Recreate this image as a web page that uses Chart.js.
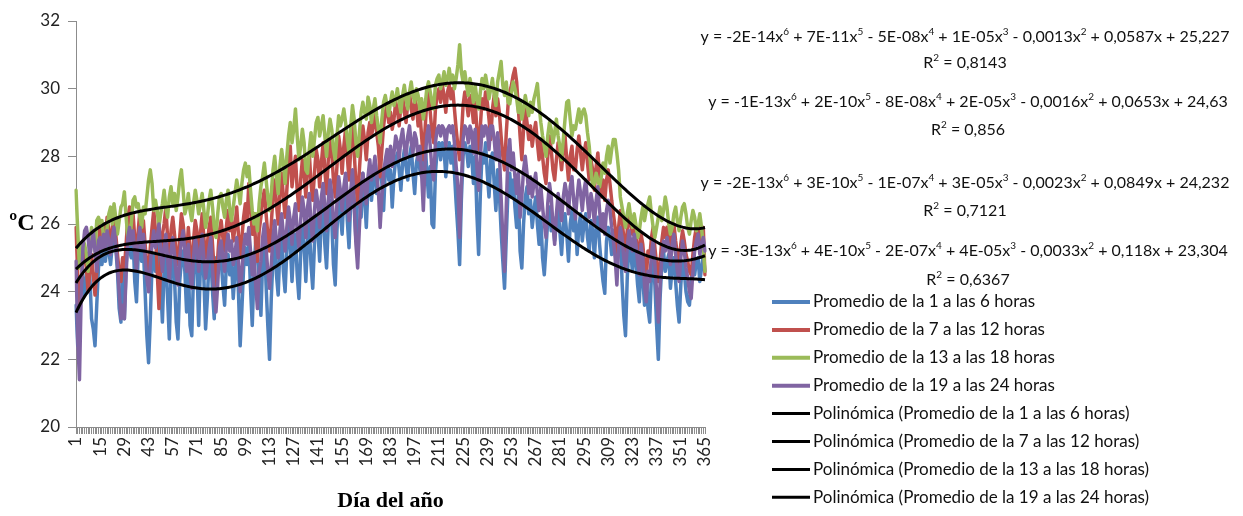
<!DOCTYPE html>
<html>
<head>
<meta charset="utf-8">
<style>
  html, body { margin: 0; padding: 0; background: #fff; }
  canvas { display: block; }
</style>
<script src="https://cdn.jsdelivr.net/npm/chart.js@4/dist/chart.umd.min.js"></script>
</head>
<body>
<canvas id="c" width="1243" height="516"></canvas>
<script>
// Day of year (category axis) and the labelled tick step
const days = Array.from({ length: 365 }, (_, i) => i + 1);
const labelStep = 14;

// Daily mean temperature (ºC), 1 h – 6 h
const blue = [
23.6,22.4,23.1,24.2,24.5,23.9,24.4,24.6,24.5,23.2,22.9,22.4,23.6,24.7,
25.1,24.8,25.3,24.9,25.4,25.2,24.8,25.4,25.7,25.3,24.6,23.5,23.1,25.0,
23.2,24.8,25.5,25.2,25.0,25.6,24.3,23.7,25.1,25.4,24.9,25.3,24.0,22.7,
21.9,23.2,24.8,25.1,24.6,24.9,25.4,24.2,23.1,24.7,25.0,23.8,22.6,24.5,
25.0,24.4,23.1,22.6,24.3,24.9,25.2,24.6,23.4,24.8,23.0,22.7,24.5,25.1,
24.7,23.0,24.8,25.2,24.4,22.9,23.8,24.9,25.1,24.0,23.2,25.0,24.6,25.3,
24.9,24.2,23.6,24.8,25.1,24.5,24.9,23.8,24.6,25.2,24.0,22.4,23.5,24.7,
25.3,24.8,25.4,24.1,23.0,24.6,25.5,25.1,24.4,23.3,24.9,25.6,24.2,23.0,
22.0,23.8,25.0,25.7,24.5,23.9,25.3,25.8,24.6,24.0,25.2,26.0,25.4,24.3,
25.3,25.7,24.5,23.8,25.1,25.9,25.4,24.3,25.5,26.0,24.8,24.1,25.4,26.2,
25.8,24.9,26.2,26.6,25.4,24.7,26.0,26.7,26.1,24.8,24.2,25.8,26.8,26.3,
25.7,26.8,27.2,26.1,25.3,26.7,27.4,26.6,25.5,26.9,27.3,26.2,27.5,26.8,
25.9,27.1,27.6,26.7,27.3,27.8,26.9,27.5,27.9,27.2,26.4,27.6,28.0,27.3,
27.6,26.5,27.4,27.9,28.1,27.6,27.0,27.8,28.2,27.7,27.3,28.0,28.3,27.5,
26.9,27.8,28.1,27.6,27.4,28.2,28.4,27.6,26.8,27.7,26.0,25.9,27.5,28.2,
28.4,27.9,28.4,28.2,27.4,28.1,28.4,27.8,28.3,27.5,26.6,25.8,24.8,26.7,
28.0,28.4,28.2,27.7,28.3,28.0,27.2,28.0,26.3,25.1,26.9,28.1,27.8,28.4,
27.5,26.8,27.9,28.1,27.2,26.4,27.6,26.9,25.8,24.9,24.1,25.6,27.0,27.5,
26.8,27.3,26.5,25.9,26.9,25.2,24.7,26.0,26.8,27.1,26.3,26.7,25.9,26.4,
26.8,26.0,25.4,26.2,25.0,24.5,25.3,26.1,26.5,25.8,26.2,25.5,26.0,26.4,
25.8,25.1,26.0,26.3,25.7,24.9,26.0,26.4,25.8,26.2,25.1,25.9,26.3,25.5,
26.0,26.3,25.6,25.2,26.1,25.8,25.0,25.9,26.2,25.4,24.8,24.3,23.95,25.5,
25.9,25.6,25.1,25.8,25.4,24.7,25.6,25.9,24.3,23.3,22.7,24.4,25.4,25.2,
24.6,25.3,24.9,24.2,23.7,25.0,24.4,23.6,24.7,23.5,23.1,24.5,25.0,24.2,
23.0,22.0,23.8,24.8,25.2,24.6,24.9,25.1,24.1,24.7,25.0,24.3,23.6,23.1,
24.2,24.9,24.6,24.0,23.7,23.6,24.3,24.8,24.5,24.9,25.0,24.3,24.7,25.1,24.6
];

// Daily mean temperature (ºC), 7 h – 12 h
const red = [
25.9,24.5,23.5,24.2,25.0,25.3,24.7,24.0,24.6,25.1,24.5,23.9,24.6,25.3,
26.1,25.6,26.0,25.5,26.2,25.8,25.3,25.9,26.4,25.7,25.1,24.6,24.3,25.0,
24.7,25.4,26.2,26.5,25.9,26.3,25.6,25.0,25.8,26.4,25.7,26.1,25.4,24.8,
24.6,25.3,25.9,26.4,25.8,24.6,23.5,24.8,25.7,26.0,26.5,25.6,25.0,25.8,
26.2,25.7,25.1,24.8,25.6,26.3,26.0,25.4,25.0,25.9,25.2,24.7,25.5,26.1,
25.8,25.1,25.7,26.3,25.6,25.0,25.4,25.9,26.2,25.4,24.6,24.2,25.0,25.8,
26.1,25.6,25.2,25.9,26.4,25.8,26.2,25.5,25.9,26.5,25.7,25.0,25.6,26.2,
26.6,26.1,27.2,26.5,25.7,26.3,25.4,24.9,25.8,26.2,26.7,27.0,26.3,25.7,
25.2,26.0,26.8,27.3,26.6,26.0,26.9,27.5,26.8,26.2,27.0,27.8,28.3,27.1,
27.6,28.0,27.0,26.4,27.3,27.9,27.5,26.8,27.6,28.1,27.2,26.7,27.5,28.2,
27.9,27.1,27.8,28.4,27.6,26.9,27.9,28.5,28.1,27.3,26.8,27.7,28.6,28.2,
27.5,28.3,28.8,28.0,27.3,28.2,28.9,28.1,27.2,26.6,27.6,28.4,28.9,28.5,
27.9,28.7,29.0,28.6,28.9,29.3,28.7,28.3,27.4,28.2,28.9,29.3,29.5,29.0,
29.3,28.8,29.1,29.6,29.4,28.9,29.5,29.8,29.3,29.0,29.6,29.9,29.4,29.1,
29.7,29.5,28.9,29.3,28.6,27.9,28.8,29.6,29.9,29.3,28.7,28.4,29.4,29.8,
30.0,29.6,30.1,29.8,29.3,29.9,30.1,29.7,30.0,29.4,28.8,28.3,27.9,28.6,
29.5,29.9,29.6,29.2,29.8,29.5,29.0,29.6,28.8,28.2,28.9,29.7,29.4,29.9,
29.6,29.1,28.5,29.4,29.8,29.2,29.7,29.3,28.6,28.0,27.6,28.7,29.5,29.9,
30.1,30.4,30.6,30.2,29.4,28.6,27.9,28.8,29.4,29.0,28.5,28.9,28.3,28.7,
29.0,28.4,27.9,28.5,28.0,27.5,27.2,28.0,28.6,28.2,27.6,27.3,27.9,28.4,
28.1,27.6,28.2,28.6,27.9,27.3,28.0,28.3,27.6,27.6,28.2,28.6,28.1,27.6,
28.1,28.4,27.8,27.3,27.9,27.6,27.0,27.7,28.1,27.4,26.8,27.3,26.7,27.3,
27.6,27.2,26.7,26.3,25.9,25.1,25.9,26.4,26.1,25.6,25.2,25.8,26.3,26.0,
25.7,26.1,25.8,25.3,24.9,25.7,25.4,24.8,24.4,25.2,25.0,25.6,25.9,25.3,
24.8,24.3,24.9,25.5,25.9,25.6,25.9,25.7,25.2,25.8,26.0,25.5,25.1,24.8,
25.4,25.8,25.5,25.1,24.9,24.6,24.5,25.1,25.6,25.9,26.0,25.5,25.7,25.9,24.5
];

// Daily mean temperature (ºC), 13 h – 18 h
const green = [
27.0,25.8,24.7,25.2,25.5,25.4,25.1,24.6,25.3,25.9,25.7,25.2,26.1,26.2,
26.0,26.1,25.6,25.3,25.9,26.3,26.5,26.0,26.6,26.2,25.7,26.1,26.5,26.6,
26.95,26.2,25.6,25.4,26.0,26.7,26.8,26.5,26.6,26.2,25.9,26.5,26.3,26.8,
27.3,27.6,27.2,26.4,26.7,26.4,25.9,26.3,26.6,27.0,26.5,26.2,26.8,27.1,
26.6,26.9,26.4,26.8,27.3,27.6,27.0,26.3,26.5,26.9,26.4,26.1,26.6,27.0,
26.7,26.3,26.6,26.9,26.4,25.9,26.2,26.7,27.0,26.5,25.9,25.6,26.3,26.8,
26.9,26.5,26.2,26.7,27.0,26.4,26.1,26.5,26.9,27.3,27.0,26.6,27.2,27.6,
27.8,27.4,27.7,27.0,26.4,26.0,26.3,25.8,26.6,27.1,27.4,27.8,27.3,26.8,
26.4,26.9,27.6,28.0,27.4,26.9,27.7,28.2,27.8,27.2,28.0,28.6,29.0,28.4,
28.8,29.4,28.6,27.9,28.3,28.8,28.4,27.6,27.5,28.2,28.7,28.0,28.5,29.0,
29.15,28.6,28.9,29.2,28.6,28.0,28.7,29.1,28.8,28.2,27.9,28.6,29.2,28.9,
29.1,29.4,29.0,28.5,28.1,28.9,29.5,29.1,28.4,28.0,28.7,29.3,29.6,29.3,
29.1,29.75,29.5,29.0,29.4,29.7,29.2,28.8,28.4,29.1,29.6,29.8,29.5,29.2,
29.6,29.9,29.5,29.7,30.0,29.6,29.3,29.8,30.1,29.7,29.4,29.9,30.2,29.8,
29.6,30.0,29.8,29.4,29.7,29.1,29.5,30.0,30.2,29.9,29.6,29.4,30.1,30.3,
30.4,30.0,30.2,30.5,30.1,30.3,30.6,30.2,30.4,30.0,30.3,30.7,31.3,30.5,
30.2,30.5,30.1,29.8,30.3,30.0,29.6,30.1,29.7,29.4,29.9,30.3,30.0,30.4,
30.1,29.7,30.0,30.3,29.8,29.5,30.2,30.5,30.8,30.1,29.8,30.2,29.6,29.55,
29.9,30.2,30.0,29.7,29.3,29.6,29.1,29.4,29.8,29.5,29.2,29.6,29.3,29.7,
29.9,30.15,29.5,29.0,28.6,28.3,28.0,28.6,29.0,28.8,28.4,28.7,29.1,28.6,
28.3,27.9,28.5,29.1,29.6,29.65,29.1,28.6,28.9,28.8,29.1,29.4,29.0,29.3,
29.4,29.2,28.7,28.3,27.6,27.1,27.2,27.5,27.3,27.1,27.4,27.8,27.5,28.0,
28.3,27.8,28.2,28.5,28.5,28.1,27.6,26.8,26.5,26.2,25.9,26.3,26.6,26.2,
25.9,26.3,26.0,25.6,25.8,26.2,26.5,26.1,26.4,26.6,26.8,26.3,25.9,25.6,
25.9,26.2,26.5,26.1,26.4,26.8,26.5,26.0,25.7,25.9,26.3,26.5,26.1,25.8,
26.2,26.5,26.6,26.3,25.9,25.7,26.1,26.4,26.2,25.8,26.0,26.3,25.9,25.3,24.6
];

// Daily mean temperature (ºC), 19 h – 24 h
const purple = [
24.9,22.6,21.4,23.9,25.3,25.8,25.9,25.6,25.0,25.4,25.8,25.2,24.6,25.5,
25.6,25.2,25.7,25.3,25.8,25.5,25.1,25.6,25.9,25.4,24.8,24.0,23.2,23.6,
23.2,24.5,25.6,25.9,25.4,25.8,25.2,24.6,25.5,25.9,25.3,25.7,25.0,24.4,
24.0,24.8,25.4,25.8,25.3,25.6,26.0,25.2,24.6,25.3,25.7,25.0,24.3,25.2,
25.6,25.1,24.5,24.2,25.0,25.5,25.8,25.2,24.6,25.4,24.5,24.1,25.0,25.6,
25.3,24.6,25.2,25.7,25.0,24.4,24.8,25.3,25.6,24.7,23.9,23.4,24.2,25.3,
25.5,25.0,24.6,25.3,25.7,25.2,25.5,24.8,25.1,25.6,24.9,24.0,24.6,25.3,
25.7,25.4,25.9,25.2,24.5,25.1,24.2,23.5,24.6,24.9,25.6,26.0,25.3,24.6,
24.1,24.8,25.6,26.1,25.5,25.0,25.8,26.3,25.7,25.2,25.9,26.5,26.1,25.4,
26.2,26.6,25.8,25.3,26.1,26.8,26.4,25.6,26.5,26.9,26.0,25.5,26.4,27.0,
26.6,25.9,26.8,27.2,26.5,25.8,26.7,27.3,26.9,26.1,25.6,26.6,27.4,27.0,
26.4,27.1,27.5,26.8,26.1,27.0,27.6,26.5,25.4,24.7,25.9,26.9,27.5,27.1,
26.6,27.4,27.9,27.3,27.6,28.0,27.4,27.0,25.9,26.8,27.5,27.9,28.2,27.7,
28.3,27.7,28.1,28.6,28.4,27.9,28.5,28.8,28.3,28.0,28.6,28.9,28.4,28.1,
28.7,28.5,27.9,28.3,27.5,26.4,27.8,28.6,28.9,28.3,27.6,27.3,28.4,28.8,
28.9,28.6,28.9,28.8,28.3,28.8,28.9,28.7,28.9,28.4,27.7,27.1,25.6,27.2,
28.5,28.9,28.8,28.4,28.9,28.7,28.1,28.8,27.7,27.0,27.9,28.9,28.6,28.9,
28.8,28.2,28.9,28.9,28.5,27.9,28.7,28.1,26.8,25.6,24.6,26.5,28.1,28.5,
27.6,28.1,27.4,26.9,27.5,26.2,26.8,27.6,28.0,27.5,26.9,27.4,26.8,27.2,
27.5,26.9,26.4,27.1,26.5,26.0,25.6,26.6,27.2,26.8,26.0,25.4,26.3,26.9,
26.6,26.1,26.8,27.2,26.9,26.3,27.1,27.4,26.7,26.15,26.8,27.3,26.9,26.4,
27.0,27.3,26.7,26.2,26.9,26.6,26.0,26.7,27.1,26.4,25.8,26.3,25.7,26.4,
26.7,26.4,25.9,25.5,25.0,24.2,25.3,25.9,25.6,25.0,24.6,25.3,25.8,25.5,
25.2,25.7,25.4,24.9,24.5,25.4,25.0,24.2,23.7,24.6,24.3,25.1,25.5,24.8,
24.0,23.1,24.2,25.0,25.5,25.2,25.6,25.3,24.8,25.4,25.7,25.1,24.6,24.3,
25.0,25.5,25.2,24.7,24.4,24.0,23.8,24.6,25.2,25.5,25.7,25.1,25.4,25.6,25.2
];

const seriesNames = [
  'Promedio de la 1 a las 6 horas',
  'Promedio de la 7 a las 12 horas',
  'Promedio de la 13 a las 18 horas',
  'Promedio de la 19 a las 24 horas'
];
const seriesColors = ['#4F81BD', '#C0504D', '#9BBB59', '#8064A2'];

// Trend line labels (equation, R²) – "^d" marks a superscript digit
const trendLabels = [
  ['y = -2E-14x^6 + 7E-11x^5 - 5E-08x^4 + 1E-05x^3 - 0,0013x^2 + 0,0587x + 25,227', 'R^2 = 0,8143'],
  ['y = -1E-13x^6 + 2E-10x^5 - 8E-08x^4 + 2E-05x^3 - 0,0016x^2 + 0,0653x + 24,63', 'R^2 = 0,856'],
  ['y = -2E-13x^6 + 3E-10x^5 - 1E-07x^4 + 3E-05x^3 - 0,0023x^2 + 0,0849x + 24,232', 'R^2 = 0,7121'],
  ['y = -3E-13x^6 + 4E-10x^5 - 2E-07x^4 + 4E-05x^3 - 0,0033x^2 + 0,118x + 23,304', 'R^2 = 0,6367']
];

// Least-squares polynomial (order 6) fitted to a daily series
function polyTrend(ys, deg) {
  const n = ys.length, m = deg + 1;
  const c = (n + 1) / 2, h = (n - 1) / 2;
  const A = Array.from({ length: m }, () => new Array(m + 1).fill(0));
  for (let k = 0; k < n; k++) {
    const t = (k + 1 - c) / h;
    const p = [1];
    for (let i = 1; i < 2 * m; i++) p.push(p[i - 1] * t);
    for (let i = 0; i < m; i++) {
      for (let j = 0; j < m; j++) A[i][j] += p[i + j];
      A[i][m] += p[i] * ys[k];
    }
  }
  for (let i = 0; i < m; i++) {
    let piv = i;
    for (let r = i + 1; r < m; r++) if (Math.abs(A[r][i]) > Math.abs(A[piv][i])) piv = r;
    [A[i], A[piv]] = [A[piv], A[i]];
    for (let r = 0; r < m; r++) {
      if (r === i) continue;
      const f = A[r][i] / A[i][i];
      for (let cc = i; cc <= m; cc++) A[r][cc] -= f * A[i][cc];
    }
  }
  const coef = A.map((row, i) => row[m] / row[i]);
  return ys.map((_, k) => {
    const t = (k + 1 - c) / h;
    let v = 0;
    for (let i = m - 1; i >= 0; i--) v = v * t + coef[i];
    return v;
  });
}

const series = [blue, red, green, purple];
const drawOrder = [4, 3, 2, 1];

const datasets = series.map((s, i) => ({
  label: seriesNames[i],
  data: s,
  borderColor: seriesColors[i],
  borderWidth: 3.5,
  pointRadius: 0,
  tension: 0,
  borderJoinStyle: 'round',
  borderCapStyle: 'round',
  order: drawOrder[i],
  legendWidth: 4
})).concat(series.map((s, i) => ({
  label: 'Polinómica (' + seriesNames[i] + ')',
  data: polyTrend(s, 6),
  borderColor: '#000000',
  borderWidth: 3,
  pointRadius: 0,
  tension: 0,
  order: 0,
  legendWidth: 3
})));

const UI_FONT = 'Lato, "Open Sans", sans-serif';

function drawRich(ctx, str, cx, cy, size) {
  const parts = [];
  let buf = '';
  for (let i = 0; i < str.length; i++) {
    if (str[i] === '^') {
      if (buf) parts.push([buf, false]);
      buf = '';
      parts.push([str[i + 1], true]);
      i++;
    } else buf += str[i];
  }
  if (buf) parts.push([buf, false]);
  const base = size + 'px ' + UI_FONT;
  const sup = Math.round(size * 0.62) + 'px ' + UI_FONT;
  let w = 0;
  for (const [t, s] of parts) { ctx.font = s ? sup : base; w += ctx.measureText(t).width; }
  let x = cx - w / 2;
  ctx.textAlign = 'left';
  ctx.textBaseline = 'middle';
  for (const [t, s] of parts) {
    ctx.font = s ? sup : base;
    ctx.fillText(t, x, s ? cy - size * 0.3 : cy);
    x += ctx.measureText(t).width;
  }
}

// Axis titles, trend equations and the legend block on the right
const annotations = {
  id: 'annotations',
  afterDraw(chart) {
    const ctx = chart.ctx;
    ctx.save();
    ctx.fillStyle = '#000';

    ctx.font = 'bold 24px "Liberation Serif", serif';
    ctx.textAlign = 'center';
    ctx.textBaseline = 'middle';
    ctx.fillText('ºC', 22, 224);

    ctx.font = 'bold 22px "Liberation Serif", serif';
    ctx.fillText('Día del año', (chart.chartArea.left + chart.chartArea.right) / 2, 501);

    const labelPos = [[965, 37, 63], [968, 102, 130], [965, 183, 211], [968, 251, 280]];
    trendLabels.forEach((lab, i) => {
      const [cx, y1, y2] = labelPos[i];
      ctx.fillStyle = '#111';
      drawRich(ctx, lab[0], cx, y1, 16);
      drawRich(ctx, lab[1], cx, y2, 16);
    });

    const x0 = 772, x1 = 810, tx = 813, y0 = 302, dy = 27.9;
    chart.data.datasets.forEach((ds, i) => {
      const y = y0 + i * dy;
      ctx.strokeStyle = ds.borderColor;
      ctx.lineWidth = ds.legendWidth;
      ctx.lineCap = 'butt';
      ctx.beginPath();
      ctx.moveTo(x0, y);
      ctx.lineTo(x1, y);
      ctx.stroke();
      ctx.fillStyle = '#111';
      ctx.font = '17px ' + UI_FONT;
      ctx.textAlign = 'left';
      ctx.textBaseline = 'middle';
      ctx.fillText(ds.label, tx, y);
    });
    ctx.restore();
  }
};

new Chart(document.getElementById('c'), {
  type: 'line',
  data: { labels: days.map(String), datasets },
  options: {
    responsive: false,
    animation: false,
    devicePixelRatio: 1,
    layout: { padding: { top: 21, right: 538, left: 0, bottom: 0 } },
    plugins: { legend: { display: false }, tooltip: { enabled: false } },
    scales: {
      x: {
        type: 'category',
        offset: false,
        grid: { drawOnChartArea: false, drawTicks: true, tickLength: 7, color: '#8c8c8c', lineWidth: 1 },
        border: { color: '#8c8c8c', width: 1 },
        ticks: {
          autoSkip: false,
          maxRotation: 90,
          minRotation: 90,
          padding: 3,
          color: '#222',
          font: { family: UI_FONT, size: 17 },
          callback: (v, i) => (i % labelStep === 0 ? String(days[i]) : '')
        },
        afterFit(scale) { scale.height = 89; }
      },
      y: {
        min: 20,
        max: 32,
        grid: { drawOnChartArea: false, drawTicks: true, tickLength: 8, color: '#8c8c8c' },
        border: { color: '#8c8c8c', width: 1 },
        ticks: { stepSize: 2, padding: 8, color: '#222', font: { family: UI_FONT, size: 17 } },
        afterFit(scale) { scale.width = 76; }
      }
    }
  },
  plugins: [annotations]
});
</script>
</body>
</html>
